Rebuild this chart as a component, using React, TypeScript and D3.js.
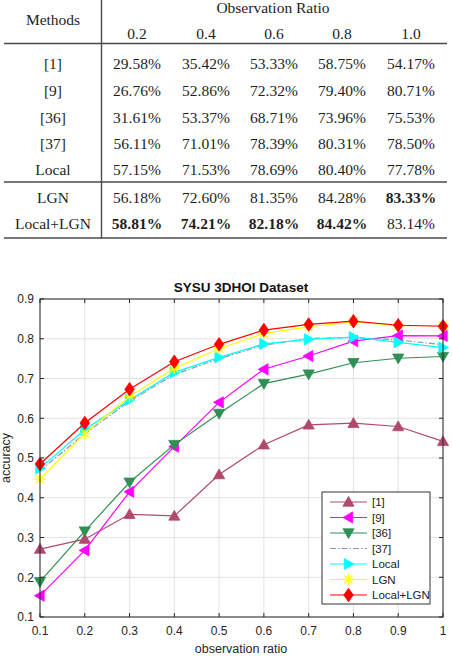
import * as d3 from 'd3';

// ---- table data ----
const methods = ['[1]', '[9]', '[36]', '[37]', 'Local', 'LGN', 'Local+LGN'];
const tableRatios = ['0.2', '0.4', '0.6', '0.8', '1.0'];
const tRef1 = [29.58, 35.42, 53.33, 58.75, 54.17];
const tRef9 = [26.76, 52.86, 72.32, 79.4, 80.71];
const tRef36 = [31.61, 53.37, 68.71, 73.96, 75.53];
const tRef37 = [56.11, 71.01, 78.39, 80.31, 78.5];
const tLocal = [57.15, 71.53, 78.69, 80.4, 77.78];
const tLGN = [56.18, 72.6, 81.35, 84.28, 83.33];
const tLocalLGN = [58.81, 74.21, 82.18, 84.42, 83.14];
const tableRows = [tRef1, tRef9, tRef36, tRef37, tLocal, tLGN, tLocalLGN];

// ---- chart data ----
const ratios = [0.1, 0.2, 0.3, 0.4, 0.5, 0.6, 0.7, 0.8, 0.9, 1.0];
const accRef1 = [0.2708, 0.2958, 0.3583, 0.3542, 0.4583, 0.5333, 0.5833, 0.5875, 0.5792, 0.5417];
const accRef9 = [0.1536, 0.2676, 0.415, 0.5286, 0.64, 0.7232, 0.7566, 0.794, 0.8077, 0.8071];
const accRef36 = [0.189, 0.3161, 0.439, 0.5337, 0.612, 0.6871, 0.711, 0.7396, 0.751, 0.7553];
const accRef37 = [0.468, 0.5611, 0.643, 0.7101, 0.75, 0.7839, 0.801, 0.8031, 0.797, 0.785];
const accLocal = [0.474, 0.5715, 0.646, 0.7153, 0.753, 0.7869, 0.7986, 0.804, 0.791, 0.7778];
const accLGN = [0.447, 0.5618, 0.655, 0.726, 0.775, 0.8135, 0.83, 0.8428, 0.833, 0.8333];
const accLocalLGN = [0.485, 0.5881, 0.673, 0.7421, 0.786, 0.8218, 0.836, 0.8442, 0.834, 0.8314];

const xTicks = [0.1, 0.2, 0.3, 0.4, 0.5, 0.6, 0.7, 0.8, 0.9, 1];
const yTicks = [0.1, 0.2, 0.3, 0.4, 0.5, 0.6, 0.7, 0.8, 0.9];

type Marker = 'up' | 'left' | 'down' | 'none' | 'right' | 'star' | 'diamond';
interface Series {
  name: string;
  values: number[];
  color: string;
  marker: Marker;
  dash?: string;
}

const series: Series[] = [
  { name: '[1]', values: accRef1, color: '#b04a6c', marker: 'up' },
  { name: '[9]', values: accRef9, color: '#ff00ff', marker: 'left' },
  { name: '[36]', values: accRef36, color: '#2f8f55', marker: 'down' },
  { name: '[37]', values: accRef37, color: '#8a96b8', marker: 'none', dash: '6,2,1.5,2' },
  { name: 'Local', values: accLocal, color: '#00ffff', marker: 'right' },
  { name: 'LGN', values: accLGN, color: '#ffff00', marker: 'star' },
  { name: 'Local+LGN', values: accLocalLGN, color: '#ff0000', marker: 'diamond' },
];

const W = 452;
const H = 656;
const SERIF = '"Liberation Serif", "Times New Roman", serif';
const SANS = 'Arial, "Liberation Sans", Helvetica, sans-serif';
const AX = '#262626';

function markerPath(m: Marker, s = 5.6): string {
  switch (m) {
    case 'up':
      return `M0,${-s}L${s},${s * 0.75}L${-s},${s * 0.75}Z`;
    case 'down':
      return `M0,${s}L${s},${-s * 0.75}L${-s},${-s * 0.75}Z`;
    case 'left':
      return `M${-s},0L${s * 0.75},${-s}L${s * 0.75},${s}Z`;
    case 'right':
      return `M${s},0L${-s * 0.75},${-s}L${-s * 0.75},${s}Z`;
    case 'diamond':
      return `M0,${-s * 1.2}L${s * 0.85},0L0,${s * 1.2}L${-s * 0.85},0Z`;
    case 'star': {
      const r = s;
      const d = r * 0.72;
      return `M${-r},0L${r},0M0,${-r}L0,${r}M${-d},${-d}L${d},${d}M${-d},${d}L${d},${-d}`;
    }
    default:
      return '';
  }
}

function MarkerShape({ m, color, x, y }: { m: Marker; color: string; x: number; y: number }) {
  if (m === 'none') return null;
  const star = m === 'star';
  return (
    <path
      d={markerPath(m)}
      transform={`translate(${x},${y})`}
      fill={star ? 'none' : color}
      stroke={color}
      strokeWidth={star ? 1.3 : 0.8}
    />
  );
}

function Table() {
  const colX = [137, 206, 274, 342, 411];
  const rowY = [63, 90, 117, 143, 169, 197, 223];
  const best = tableRatios.map((_, c) => d3.max(tableRows, (r) => r[c]) as number);
  const left = 4;
  const right = 447;
  const rule = '#4a4a4a';
  return (
    <g fontFamily={SERIF} fontSize={15.5} fill="#1e1e1e">
      <text x={273} y={12.5} textAnchor="middle">Observation Ratio</text>
      <text x={53} y={25} textAnchor="middle">Methods</text>
      {tableRatios.map((r, i) => (
        <text key={r} x={colX[i]} y={39} textAnchor="middle">{r}</text>
      ))}
      <line x1={left} x2={right} y1={43.5} y2={43.5} stroke={rule} strokeWidth={1.6} />
      <line x1={left} x2={right} y1={182} y2={182} stroke={rule} strokeWidth={1.6} />
      <line x1={left} x2={right} y1={238} y2={238} stroke={rule} strokeWidth={1.6} />
      <line x1={101.5} x2={101.5} y1={0} y2={238} stroke={rule} strokeWidth={1.4} />
      {methods.map((m, i) => (
        <g key={m}>
          <text x={53} y={rowY[i] + 6} textAnchor="middle">{m}</text>
          {tableRows[i].map((v, c) => (
            <text
              key={c}
              x={colX[c]}
              y={rowY[i] + 6}
              textAnchor="middle"
              fontWeight={v === best[c] ? 700 : 400}
            >
              {v.toFixed(2)}%
            </text>
          ))}
        </g>
      ))}
    </g>
  );
}

function Chart() {
  const x = d3.scaleLinear().domain([0.1, 1]).range([40, 443]);
  const y = d3.scaleLinear().domain([0.1, 0.9]).range([617, 299]);
  const line = d3
    .line<number>()
    .x((_, i) => x(ratios[i]))
    .y((d) => y(d));
  const [x0, x1] = x.range();
  const [y0, y1] = y.range();
  const legX = 322;
  const legY = 492;
  const legStep = 15.5;
  return (
    <g fontFamily={SANS}>
      <text x={241} y={292} textAnchor="middle" fontWeight={700} fontSize={13.5} fill="#111">
        SYSU 3DHOI Dataset
      </text>
      <rect x={x0} y={y1} width={x1 - x0} height={y0 - y1} fill="#fff" />
      {xTicks.map((t) => (
        <line key={'gx' + t} x1={x(t)} x2={x(t)} y1={y1} y2={y0} stroke="#dcdcdc" strokeWidth={0.8} />
      ))}
      {yTicks.map((t) => (
        <line key={'gy' + t} x1={x0} x2={x1} y1={y(t)} y2={y(t)} stroke="#dcdcdc" strokeWidth={0.8} />
      ))}
      {series.map((s) => (
        <g key={s.name}>
          <path
            d={line(s.values) ?? ''}
            fill="none"
            stroke={s.color}
            strokeWidth={1.2}
            strokeDasharray={s.dash}
          />
          {s.values.map((v, i) => (
            <MarkerShape key={i} m={s.marker} color={s.color} x={x(ratios[i])} y={y(v)} />
          ))}
        </g>
      ))}
      <rect x={x0} y={y1} width={x1 - x0} height={y0 - y1} fill="none" stroke={AX} strokeWidth={1} />
      {xTicks.map((t) => (
        <g key={'tx' + t}>
          <line x1={x(t)} x2={x(t)} y1={y0} y2={y0 - 4} stroke={AX} />
          <line x1={x(t)} x2={x(t)} y1={y1} y2={y1 + 4} stroke={AX} />
          <text x={x(t)} y={635} textAnchor="middle" fontSize={12} fill={AX}>
            {d3.format('~g')(t)}
          </text>
        </g>
      ))}
      {yTicks.map((t) => (
        <g key={'ty' + t}>
          <line x1={x0} x2={x0 + 4} y1={y(t)} y2={y(t)} stroke={AX} />
          <line x1={x1} x2={x1 - 4} y1={y(t)} y2={y(t)} stroke={AX} />
          <text x={34} y={y(t) + 4.3} textAnchor="end" fontSize={12} fill={AX}>
            {t.toFixed(1)}
          </text>
        </g>
      ))}
      <text x={241} y={653} textAnchor="middle" fontSize={12.5} fill={AX}>
        observation ratio
      </text>
      <text
        transform={`translate(10,458) rotate(-90)`}
        textAnchor="middle"
        fontSize={12.5}
        fill={AX}
      >
        accuracy
      </text>
      <rect x={legX} y={legY} width={108} height={112} fill="#fff" stroke="#333" strokeWidth={1} />
      {series.map((s, i) => {
        const ly = legY + 10 + i * legStep;
        return (
          <g key={'lg' + s.name}>
            <line
              x1={330}
              x2={367}
              y1={ly}
              y2={ly}
              stroke={s.color}
              strokeWidth={1.2}
              strokeDasharray={s.dash}
            />
            <MarkerShape m={s.marker} color={s.color} x={348.5} y={ly} />
            <text x={372} y={ly + 4} fontSize={11.5} fill="#222">
              {s.name}
            </text>
          </g>
        );
      })}
    </g>
  );
}

export default function App() {
  return (
    <div style={{ position: 'absolute', left: 0, top: 0 }}>
      <svg width={W} height={H} style={{ display: 'block', background: '#fff' }}>
        <Table />
        <Chart />
      </svg>
    </div>
  );
}
